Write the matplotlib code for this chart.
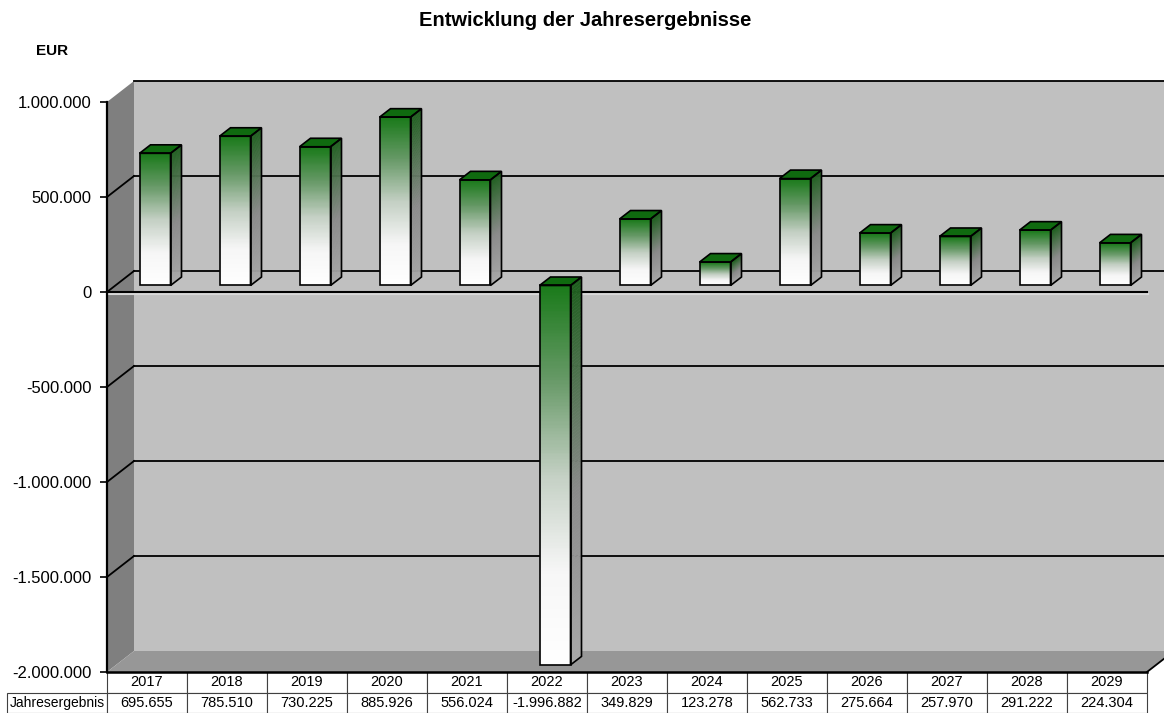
import matplotlib.pyplot as plt
import numpy as np
from matplotlib.colors import LinearSegmentedColormap
from matplotlib.patches import Polygon
from matplotlib.transforms import Affine2D

# Jahresergebnisse je Jahr (EUR)
jahre = ["2017", "2018", "2019", "2020", "2021", "2022", "2023",
         "2024", "2025", "2026", "2027", "2028", "2029"]
ergebnis = [695655, 785510, 730225, 885926, 556024, -1996882, 349829,
            123278, 562733, 275664, 257970, 291222, 224304]
y_ticks = [-2000000, -1500000, -1000000, -500000, 0, 500000, 1000000]

plt.rcParams['font.family'] = ['Liberation Sans', 'DejaVu Sans']

W, H = 1164, 713
fig = plt.figure(figsize=(W / 100, H / 100), dpi=100)
# Vorderebene des Diagramms
ax = fig.add_axes([107 / W, 41 / H, 1040 / W, 570 / H])
n = len(jahre)
ax.set_xlim(-0.5, n - 0.5)
ax.set_ylim(y_ticks[0], y_ticks[-1])

# Pixel -> Dateneinheiten fuer die Tiefenverschiebung
sx = 1040 / n
sy = 570 / (y_ticks[-1] - y_ticks[0])


def off(x, y, px, py):
    return (x + px / sx, y + py / sy)


x0, x1 = -0.5, n - 0.5
y0, y1 = y_ticks[0], y_ticks[-1]
wall_dx, wall_dy = 27, 21

# Rueckwand, Seitenwand, Boden
back = Polygon([off(x0, y0, wall_dx, wall_dy), off(x1, y0, wall_dx, wall_dy),
                off(x1, y1, wall_dx, wall_dy), off(x0, y1, wall_dx, wall_dy)],
               closed=True, fc="#c0c0c0", ec="none", clip_on=False, zorder=1)
left = Polygon([(x0, y0), off(x0, y0, wall_dx, wall_dy),
                off(x0, y1, wall_dx, wall_dy), (x0, y1)],
               closed=True, fc="#7f7f7f", ec="none", clip_on=False, zorder=1)
floor = Polygon([(x0, y0), (x1, y0), off(x1, y0, wall_dx, wall_dy),
                 off(x0, y0, wall_dx, wall_dy)],
                closed=True, fc="#979797", ec="none", clip_on=False, zorder=1)
for p in (back, left, floor):
    ax.add_patch(p)

# Gitterlinien auf Rueck- und Seitenwand
for v in y_ticks[1:]:
    bx0, by = off(x0, v, wall_dx, wall_dy)
    bx1, _ = off(x1, v, wall_dx, wall_dy)
    ax.plot([bx0, bx1], [by, by], color="black", lw=1.3, clip_on=False, zorder=2)
    if v != y_ticks[-1]:
        ax.plot([x0, bx0], [v, by], color="black", lw=1.3, clip_on=False, zorder=2)
# rechte Bodenkante
fx, fy = off(x1, y0, wall_dx, wall_dy)
ax.plot([x1, fx], [y0, fy], color="black", lw=1.3, clip_on=False, zorder=2)

# Nulllinie vorne (mit leichtem Schatten)
ax.plot([x0, x1], [0, 0], color="#d8d8d8", lw=1.5, clip_on=False, zorder=2,
        transform=ax.transData + Affine2D().translate(1, -2))
ax.plot([x0, x1], [0, 0], color="black", lw=1.5, clip_on=False, zorder=2)

# Farbverlaeufe fuer die Saeulen
front_cmap = LinearSegmentedColormap.from_list(
    "front", [(0.0, "#ffffff"), (0.25, "#f6f6f6"), (0.5, "#c4d0c4"),
              (0.75, "#689a68"), (1.0, "#1a7a1a")])
side_cmap = LinearSegmentedColormap.from_list(
    "side", [(0.0, "#a8a8a8"), (0.45, "#8a8a8a"), (1.0, "#1d5e1d")])
top_color = "#0f6a0f"

bar_w = 31 / sx
bar_px, bar_py = 8, 6.5     # Lage der Saeulenfront in der Tiefe
dep_px, dep_py = 11, 8.5    # Saeulentiefe
steps = 120


def saeule(i, v):
    lo, hi = min(v, 0), max(v, 0)
    xa = i - bar_w / 2 + bar_px / sx
    xb = i + bar_w / 2 + bar_px / sx
    ddx, ddy = dep_px / sx, dep_py / sy
    # Front und Seite mit Verlauf
    edges = np.linspace(lo, hi, steps + 1) + bar_py / sy
    for k in range(steps):
        ya, yb = edges[k], edges[k + 1]
        c = front_cmap((k + 0.5) / steps)
        ax.add_patch(Polygon([(xa, ya), (xb, ya), (xb, yb), (xa, yb)],
                             closed=True, fc=c, ec=c, lw=0.3, zorder=5))
        c2 = side_cmap((k + 0.5) / steps)
        ax.add_patch(Polygon([(xb, ya), (xb + ddx, ya + ddy),
                              (xb + ddx, yb + ddy), (xb, yb)],
                             closed=True, fc=c2, ec=c2, lw=0.3, zorder=5))
    ybot, ytop = edges[0], edges[-1]
    # Deckflaeche
    ax.add_patch(Polygon([(xa, ytop), (xb, ytop), (xb + ddx, ytop + ddy),
                          (xa + ddx, ytop + ddy)],
                         closed=True, fc=top_color, ec="black", lw=1.2, zorder=6))
    # Umrisse
    ax.add_patch(Polygon([(xa, ybot), (xb, ybot), (xb, ytop), (xa, ytop)],
                         closed=True, fill=False, ec="black", lw=1.2, zorder=6))
    ax.add_patch(Polygon([(xb, ybot), (xb + ddx, ybot + ddy),
                          (xb + ddx, ytop + ddy), (xb, ytop)],
                         closed=True, fill=False, ec="black", lw=1.2, zorder=6))


for i, v in enumerate(ergebnis):
    saeule(i, v)

# Achsen
for s in ("top", "right"):
    ax.spines[s].set_visible(False)
ax.spines["left"].set_linewidth(1.6)
ax.spines["bottom"].set_linewidth(1.8)
ax.spines["left"].set_zorder(7)
ax.spines["bottom"].set_zorder(7)
ax.patch.set_visible(False)
ax.set_xticks([])
ax.set_yticks(y_ticks)
ax.set_yticklabels([f"{t:,}".replace(",", ".") for t in y_ticks], fontsize=12)
ax.tick_params(axis="y", length=5, width=1.2, pad=6)

# Datentabelle unter dem Diagramm
werte = [f"{v:,}".replace(",", ".") for v in ergebnis]
tab = ax.table(cellText=[[""] + jahre, ["Jahresergebnis"] + werte],
               colWidths=[100 / 1040] + [80 / 1040] * n,
               cellLoc="center",
               bbox=[-100 / 1040, -41 / 570, 1140 / 1040, 41 / 570])
tab.auto_set_font_size(False)
tab.set_fontsize(10.5)
for (r, c), cell in tab.get_celld().items():
    cell.set_edgecolor("#404040")
    cell.set_linewidth(0.8)
    cell.set_facecolor("white")
    if r == 0 and c == 0:
        cell.visible_edges = ""
    if r == 1 and c == 0:
        cell.get_text().set_ha("left")
        cell.get_text().set_fontsize(10)
        cell.PAD = 0.03

fig.text(585 / W, 1 - 20 / H, "Entwicklung der Jahresergebnisse",
         ha="center", va="center", fontsize=14.5, fontweight="bold")
fig.text(52 / W, 1 - 51 / H, "EUR", ha="center", va="center",
         fontsize=11, fontweight="bold")

fig.savefig("out.png", dpi=100)
